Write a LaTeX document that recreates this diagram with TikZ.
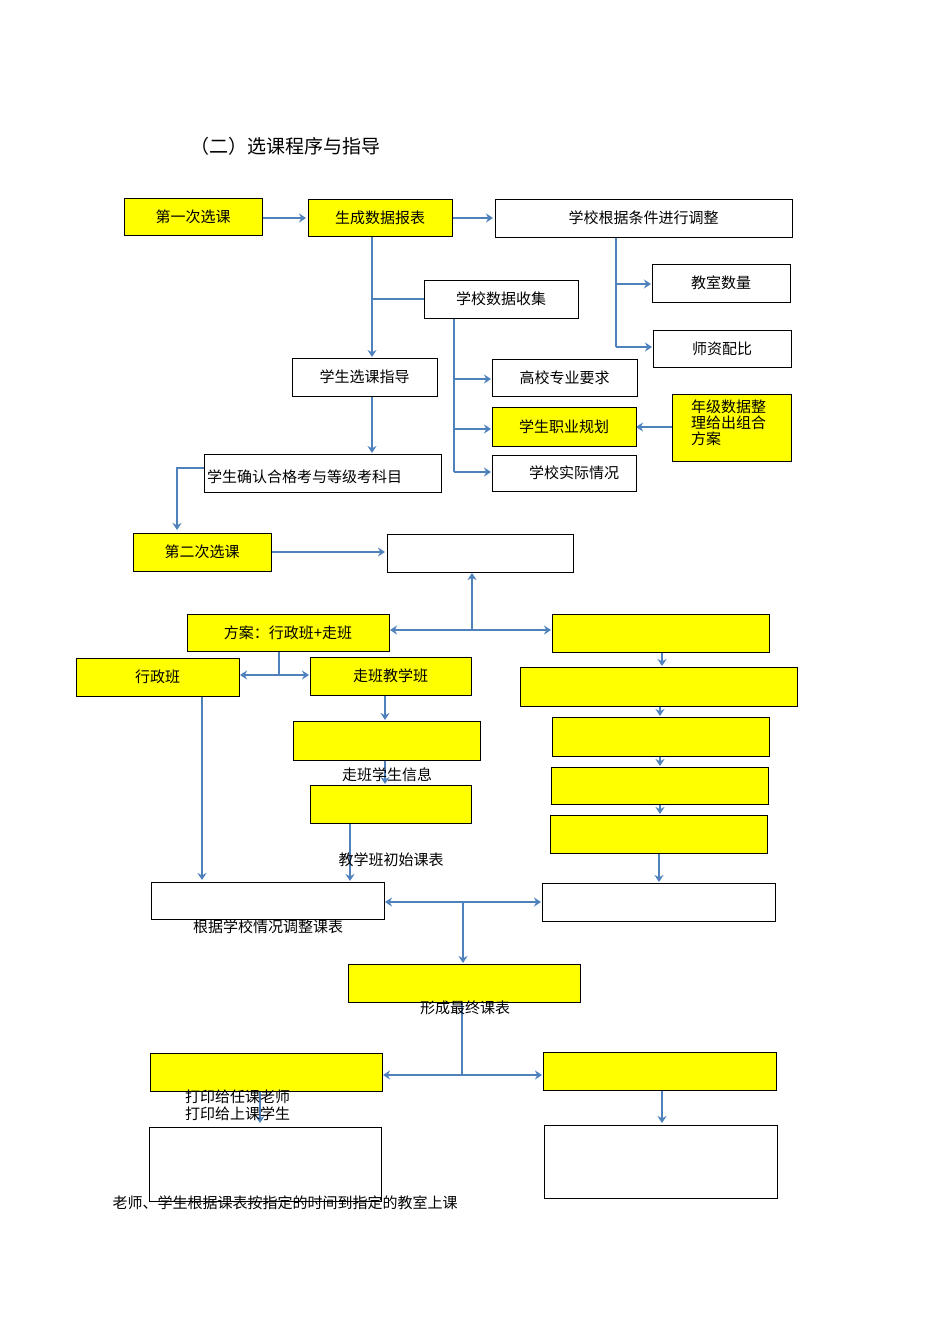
\documentclass[tikz,border=0pt]{standalone}
\usepackage{fontspec}
\setmainfont{Noto Sans CJK SC}
\usetikzlibrary{arrows.meta}
\definecolor{ab}{HTML}{4F81BD}
\definecolor{yb}{HTML}{FFFF00}
\tikzset{
 bx/.style={draw=black,line width=0.9pt,fill=white},
 yb/.style={draw=black,line width=0.9pt,fill=yb},
 ar/.style={draw=ab,line width=2.6pt,-{Stealth[length=7pt,width=9pt]}},
 ln/.style={draw=ab,line width=2.6pt},
 tx/.style={font=\fontsize{15}{17}\selectfont,inner sep=0pt}
}
\newcommand{\bxx}[6]{\path[#1] (#2,#3) rectangle (#4,#5); \node[tx] at ({(#2+#4)/2},{(#3+#5)/2}) {#6};}
\begin{document}
\begin{tikzpicture}[x=1pt,y=-1pt]
\useasboundingbox (0,0) rectangle (950,1344);
\node[font=\fontsize{19}{21}\selectfont] (title) at (285,146) {（二）选课程序与指导};
% connectors first
\coordinate (j1) at (372,299);
\draw[ar] (262,218) -- (306,218);
\draw[ar] (452,218) -- (493,218);
\draw[ar] (372,236) -- (372,357);
\draw[ln] (424,299) -- (j1);
\draw[ln] (616,237) -- (616,347);
\draw[ar] (616,284) -- (651,284);
\draw[ar] (616,347) -- (652,347);
\draw[ln] (454,318) -- (454,472);
\draw[ar] (454,379) -- (491,379);
\draw[ar] (454,429) -- (491,429);
\draw[ar] (454,472) -- (491,472);
\draw[ar] (672,427) -- (636,427);
\draw[ar] (372,396) -- (372,453);
\draw[ar] (204,468) -- (177,468) -- (177,530);
\draw[ar] (271,552) -- (385,552);
\coordinate (j2) at (472,630);
\draw[ar] (j2) -- (472,573);
\draw[ar] (j2) -- (390,630);
\draw[ar] (j2) -- (551,630);
\draw[ln] (279,651) -- (279,675);
\draw[ar] (279,675) -- (240,675);
\draw[ar] (279,675) -- (309,675);
\draw[ar] (202,696) -- (202,880);
\draw[ar] (385,695) -- (385,720);
\draw[ar] (385,760) -- (385,784);
\draw[ar] (350,823) -- (350,881);
\draw[ar] (662,652) -- (662,666);
\draw[ar] (660,706) -- (660,716);
\draw[ar] (660,756) -- (660,766);
\draw[ar] (660,804) -- (660,814);
\draw[ar] (659,853) -- (659,882);
\coordinate (j3) at (463,902);
\draw[ar] (j3) -- (385,902);
\draw[ar] (j3) -- (541,902);
\draw[ar] (j3) -- (463,963);
\coordinate (j4) at (462,1075);
\draw[ln] (462,1002) -- (j4);
\draw[ar] (j4) -- (383,1075);
\draw[ar] (j4) -- (542,1075);
\draw[ar] (662,1090) -- (662,1123);
\draw[ar] (260,1091) -- (260,1123);
% boxes
\bxx{yb}{124}{198}{262}{235}{第一次选课}
\bxx{yb}{308}{199}{452}{236}{生成数据报表}
\bxx{bx}{495}{199}{792}{237}{学校根据条件进行调整}
\bxx{bx}{652}{264}{790}{302}{教室数量}
\bxx{bx}{653}{330}{791}{367}{师资配比}
\bxx{bx}{424}{280}{578}{318}{学校数据收集}
\bxx{bx}{292}{358}{437}{396}{学生选课指导}
\bxx{bx}{492}{359}{637}{396}{高校专业要求}
\bxx{yb}{492}{407}{636}{446}{学生职业规划}
\path[yb] (672,394) rectangle (791,461);
\node[tx,align=left,font=\fontsize{15}{16}\selectfont,anchor=north west] (b10) at (691,400) {年级数据整\\理给出组合\\方案};
\bxx{bx}{492}{455}{636}{491}{\hspace{20pt}学校实际情况}
\path[bx] (204,454) rectangle (441,492);
\node[tx,anchor=west] (b11) at (207,477) {学生确认合格考与等级考科目};
\bxx{yb}{133}{533}{271}{571}{第二次选课}
\path[bx] (387,534) rectangle (573,572);
\bxx{yb}{187}{614}{389}{651}{方案：行政班+走班}
\path[yb] (552,614) rectangle (769,652);
\bxx{yb}{76}{658}{239}{696}{行政班}
\bxx{yb}{310}{657}{471}{695}{走班教学班}
\path[yb] (520,667) rectangle (797,706);
\path[yb] (293,721) rectangle (480,760);
\path[yb] (552,717) rectangle (769,756);
\path[yb] (551,767) rectangle (768,804);
\path[yb] (310,785) rectangle (471,823);
\path[yb] (550,815) rectangle (767,853);
\path[bx] (151,882) rectangle (384,919);
\path[bx] (542,883) rectangle (775,921);
\path[yb] (348,964) rectangle (580,1002);
\path[yb] (150,1053) rectangle (382,1091);
\path[yb] (543,1052) rectangle (776,1090);
\path[bx] (149,1127) rectangle (381,1201);
\path[bx] (544,1125) rectangle (777,1198);
% free texts
\node[tx] (t1) at (387,775) {走班学生信息};
\node[tx] (t2) at (391,860) {教学班初始课表};
\node[tx] (t3) at (268,927) {根据学校情况调整课表};
\node[tx] (t4) at (465,1008) {形成最终课表};
\node[tx,anchor=west] (t5) at (185,1097) {打印给任课老师};
\node[tx,anchor=west] (t6) at (185,1114) {打印给上课学生};
\node[tx] (t7) at (285,1203) {老师、学生根据课表按指定的时间到指定的教室上课};
\end{tikzpicture}
\end{document}
